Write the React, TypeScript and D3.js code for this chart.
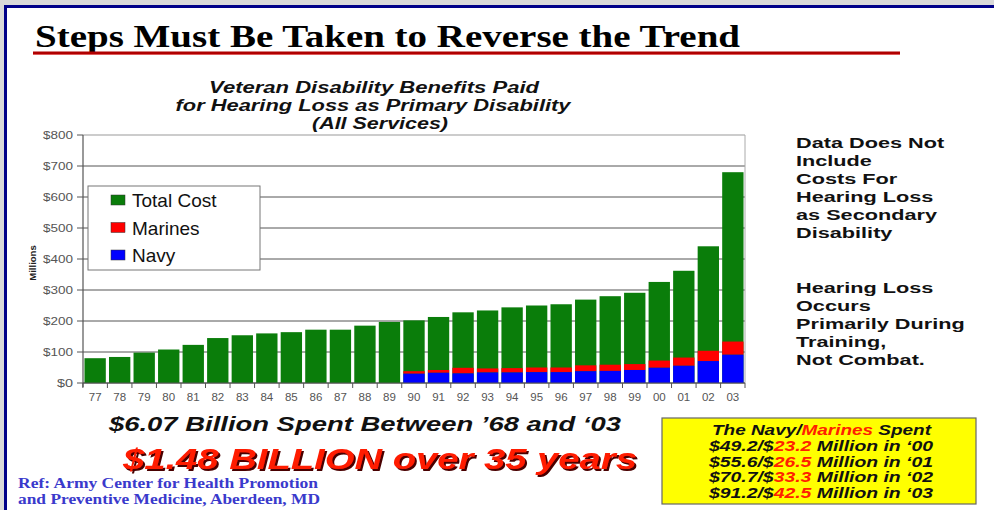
import React from "react";
import * as d3 from "d3";

const years = ["77","78","79","80","81","82","83","84","85","86","87","88","89","90","91","92","93","94","95","96","97","98","99","00","01","02","03"];
const totalCost = [80,84,98,108,123,145,154,160,164,172,172,185,197,202,213,228,234,244,250,254,269,280,291,326,362,441,680];
const navy = [0,0,0,0,0,0,0,0,0,0,0,0,0,30,33,31,34,34,35,35,38,39,42,49.2,55.6,70.7,91.2];
const marines = [0,0,0,0,0,0,0,0,0,0,0,0,0,8,9,18,13,14,15,15,19,20,19,23.2,26.5,33.3,42.5];
const yTicks = [0,100,200,300,400,500,600,700,800];
const legendItems = [
  { label: "Total  Cost", color: "#0a7d0a" },
  { label: "Marines", color: "#ff0000" },
  { label: "Navy", color: "#0000ff" },
];
const noteTop = ["Data Does Not","Include","Costs For","Hearing Loss","as Secondary","Disability"];
const noteBottom = ["Hearing Loss","Occurs","Primarily During","Training,","Not Combat."];
const boxRows = [
  { a: "$49.2/$", b: "23.2", c: " Million in \u201800" },
  { a: "$55.6/$", b: "26.5", c: " Million in \u201801" },
  { a: "$70.7/$", b: "33.3", c: " Million in \u201802" },
  { a: "$91.2/$", b: "42.5", c: " Million in \u201803" },
];

const GREEN = "#0a7d0a";
const RED = "#ff0000";
const BLUE = "#0000ff";

export default function App() {
  const W = 994, H = 510;
  const left = 83, right = 745, top = 135, bottom = 383;
  const x = d3.scaleBand<string>().domain(years).range([left, right]).paddingInner(0.13).paddingOuter(0.06);
  const y = d3.scaleLinear().domain([0, 800]).range([bottom, top]);
  const bw = x.bandwidth();
  const sans = "Arial, 'Liberation Sans', sans-serif";
  const serif = "'Times New Roman', 'Liberation Serif', serif";

  return (
    <div style={{ position: "absolute", left: 0, top: 0, width: W, height: H }}>
      <svg width={W} height={H} style={{ display: "block" }}>
        <defs>
          <filter id="shadow" x="-5%" y="-20%" width="110%" height="150%">
            <feDropShadow dx={2} dy={2} stdDeviation={0.6} floodColor="#4a0000" floodOpacity={1} />
          </filter>
        </defs>
        <rect x={0} y={0} width={W} height={H} fill="#ffffff" />
        {/* frame */}
        <rect x={0} y={0} width={W} height={5} fill="#d9d9d9" />
        <rect x={0} y={0} width={4} height={H} fill="#d9d9d9" />
        <rect x={4} y={5} width={W - 4} height={3} fill="#000088" />
        <rect x={4} y={5} width={3} height={H - 5} fill="#000088" />

        {/* title */}
        <text x={35} y={47} fontFamily={serif} fontWeight="bold" fontSize={31} fill="#000" textLength={705} lengthAdjust="spacingAndGlyphs">Steps Must Be Taken to Reverse the Trend</text>
        <line x1={33} x2={900} y1={53} y2={53} stroke="#b00000" strokeWidth={3} />
        <line x1={33} x2={900} y1={54.5} y2={54.5} stroke="#e05050" strokeWidth={0.8} />

        {/* subtitle */}
        <g fontFamily={sans} fontWeight="bold" fontStyle="italic" fontSize={16} fill="#111" textAnchor="middle">
          <text x={374} y={93} textLength={330} lengthAdjust="spacingAndGlyphs">Veteran Disability Benefits Paid</text>
          <text x={373} y={111} textLength={395} lengthAdjust="spacingAndGlyphs">for Hearing Loss as Primary Disability</text>
          <text x={380} y={129} textLength={136} lengthAdjust="spacingAndGlyphs">(All Services)</text>
        </g>

        {/* gridlines */}
        {yTicks.map((t) => (
          <line key={"g" + t} x1={left} x2={right} y1={y(t)} y2={y(t)} stroke={t === 800 ? "#999" : "#555"} strokeWidth={1} />
        ))}
        <line x1={right} x2={right} y1={top} y2={bottom} stroke="#aaa" strokeWidth={1} />

        {/* bars */}
        {years.map((yr, i) => {
          const bx = x(yr)!;
          return (
            <g key={yr}>
              <rect x={bx} y={y(totalCost[i])} width={bw} height={y(0) - y(totalCost[i])} fill={GREEN} />
              {navy[i] + marines[i] > 0 && (
                <rect x={bx} y={y(navy[i] + marines[i])} width={bw} height={y(navy[i]) - y(navy[i] + marines[i])} fill={RED} />
              )}
              {navy[i] > 0 && (
                <rect x={bx} y={y(navy[i])} width={bw} height={y(0) - y(navy[i])} fill={BLUE} />
              )}
            </g>
          );
        })}

        {/* axes */}
        <line x1={left} x2={left} y1={top} y2={bottom + 4} stroke="#555" strokeWidth={1.2} />
        <line x1={left} x2={right} y1={bottom} y2={bottom} stroke="#555" strokeWidth={1.2} />
        {yTicks.map((t) => (
          <g key={"yt" + t}>
            <line x1={left - 6} x2={left} y1={y(t)} y2={y(t)} stroke="#555" />
            <text x={73} y={y(t) + 4} textAnchor="end" fontFamily={sans} fontSize={11.5} fill="#555" textLength={t === 0 ? 16 : 30} lengthAdjust="spacingAndGlyphs">{"$" + t}</text>
          </g>
        ))}
        {years.map((yr) => (
          <g key={"xt" + yr}>
            <line x1={x(yr)! - x.step() * x.paddingInner() / 2} x2={x(yr)! - x.step() * x.paddingInner() / 2} y1={bottom} y2={bottom + 5} stroke="#555" />
            <text x={x(yr)! + bw / 2} y={401} textAnchor="middle" fontFamily={sans} fontSize={11.5} fill="#555">{yr}</text>
          </g>
        ))}
        <line x1={right} x2={right} y1={bottom} y2={bottom + 5} stroke="#555" />
        <text transform={`translate(36,263) rotate(-90)`} textAnchor="middle" fontFamily={sans} fontWeight="bold" fontSize={9.5} fill="#222">Millions</text>

        {/* legend */}
        <rect x={88} y={186} width={172} height={84} fill="#fff" stroke="#777" strokeWidth={1} />
        {legendItems.map((it, i) => (
          <g key={it.label}>
            <rect x={111} y={195 + i * 27.5} width={14} height={10} fill={it.color} stroke="#333" strokeWidth={0.5} />
            <text x={132} y={207 + i * 27.5} fontFamily={sans} fontSize={19} fill="#111">{it.label}</text>
          </g>
        ))}

        {/* right notes */}
        <g transform="translate(796,0) scale(1.4,1)" fontFamily={sans} fontWeight="bold" fontSize={15.5} fill="#111">
          {noteTop.map((s, i) => (
            <text key={"nt" + i} x={0} y={148 + i * 18}>{s}</text>
          ))}
          {noteBottom.map((s, i) => (
            <text key={"nb" + i} x={0} y={293 + i * 18}>{s}</text>
          ))}
        </g>

        {/* bottom texts */}
        <text x={365} y={431} textAnchor="middle" fontFamily={sans} fontWeight="bold" fontStyle="italic" fontSize={21} fill="#111" textLength={512} lengthAdjust="spacingAndGlyphs">$6.07 Billion Spent Between ’68 and ‘03</text>
        <text x={380} y={469} textAnchor="middle" fontFamily={sans} fontWeight="bold" fontStyle="italic" fontSize={29} fill="#ff1a00" filter="url(#shadow)" textLength={514} lengthAdjust="spacingAndGlyphs">$1.48 BILLION over 35 years</text>
        <g fontFamily={serif} fontWeight="bold" fontSize={14.5} fill="#3a3acc">
          <text x={18} y={488} textLength={300} lengthAdjust="spacingAndGlyphs">Ref: Army Center for Health Promotion</text>
          <text x={18} y={504} textLength={302} lengthAdjust="spacingAndGlyphs">and Preventive Medicine, Aberdeen, MD</text>
        </g>

        {/* yellow box */}
        <rect x={662} y={418} width={314} height={86} fill="#ffff00" stroke="#666" strokeWidth={1.2} />
        <g fontFamily={sans} fontWeight="bold" fontStyle="italic" fontSize={14.5} fill="#111">
          <text x={712} y={435} textLength={219} lengthAdjust="spacingAndGlyphs">
            The Navy/<tspan fill="#ff2000">Marines</tspan> Spent
          </text>
          {boxRows.map((r, i) => (
            <text key={"br" + i} x={709} y={451 + i * 15.7} textLength={224} lengthAdjust="spacingAndGlyphs">
              {r.a}<tspan fill="#ff2000">{r.b}</tspan>{r.c}
            </text>
          ))}
        </g>
      </svg>
    </div>
  );
}
